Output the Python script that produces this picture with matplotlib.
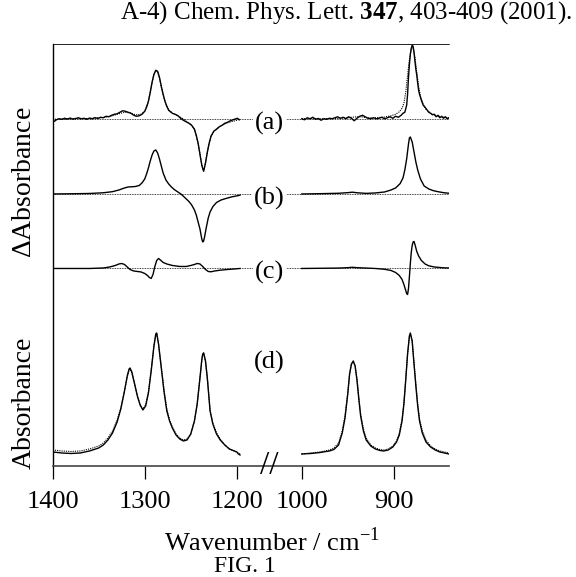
"""IR difference spectra (a)-(c) and absorbance (d), broken wavenumber axis."""

import matplotlib
matplotlib.use("Agg")
import matplotlib.pyplot as plt
import numpy as np

plt.rcParams["font.family"] = ["Liberation Serif", "DejaVu Serif"]
plt.rcParams["mathtext.fontset"] = "custom"
plt.rcParams["mathtext.rm"] = "Liberation Serif"
plt.rcParams["mathtext.bf"] = "Liberation Serif:bold"

# ---- data (arbitrary units) ----
# (a) observed difference spectrum, solid (noisy) and dotted (fit)
a_left_w = [1400, 1398, 1396, 1393, 1390, 1387, 1384, 1381, 1378, 1375, 1372, 1369, 1366, 1363,
            1360, 1357, 1354, 1351, 1348, 1345, 1342, 1339, 1336, 1333, 1330, 1327, 1324, 1321,
            1318, 1315, 1312, 1309, 1306, 1303, 1300, 1298, 1296, 1294, 1292, 1290, 1288, 1286,
            1284, 1282, 1280, 1278, 1276, 1274, 1272, 1270, 1267, 1264, 1261, 1258, 1255, 1252,
            1249, 1246, 1244, 1242, 1240, 1238, 1236, 1234, 1232, 1230, 1228, 1225, 1222, 1219,
            1216, 1213, 1210, 1207, 1204, 1201, 1198, 1195, 1192]
a_left = [-1.0, -2.0, -0.5, 0.5, 0.0, 1.0, 0.3, 1.2, 0.2, 0.8, 1.5, 0.5, 1.0, 0.0,
          1.2, 0.4, 1.6, 0.8, 2.0, 1.5, 3.0, 2.5, 4.0, 5.0, 5.5, 7.0, 8.5, 8.0,
          7.0, 6.0, 4.0, 3.0, 3.5, 5.0, 8.0, 12, 18, 27, 37, 45, 49, 48,
          42, 33, 25, 18, 13, 9, 7.5, 6.0, 5.0, 3.5, 1.0, -1.0, -2.5, -4.0,
          -6.0, -10, -16, -24, -35, -46, -52, -44, -33, -24, -17, -12, -10, -7.5,
          -6.0, -4.0, -3.0, -1.5, -0.5, 0.5, 1.0, 0.3, -0.5]
a_fit_left_w = [1400, 1380, 1360, 1345, 1335, 1328, 1322, 1316, 1310, 1304, 1300, 1296, 1292, 1290,
                1288, 1286, 1284, 1282, 1280, 1277, 1274, 1270, 1265, 1260, 1255, 1250, 1246, 1242,
                1239, 1237, 1236, 1234, 1231, 1228, 1224, 1218, 1210, 1200, 1192]
a_fit_left = [0, 0.3, 0.8, 1.8, 3.5, 5.5, 7.0, 6.5, 4.5, 5.0, 8.0, 18, 37, 45,
              48, 47, 41, 32, 24, 15, 9.5, 6.0, 4.0, 1.5, -2.0, -5.0, -10, -24,
              -40, -50, -51, -43, -28, -17, -11, -7, -3.5, -1, 0]
a_right_w = [1000, 997, 994, 991, 988, 985, 982, 979, 976, 973, 970, 967, 964, 961, 958, 955,
             952, 949, 946, 943, 940, 937, 934, 931, 928, 925, 922, 919, 916, 913, 910, 907,
             904, 901, 898, 895, 892, 890, 888, 886, 885, 884, 883, 882, 881, 880, 879, 878,
             877, 876, 875, 874, 873, 872, 870, 868, 866, 864, 862, 860, 858, 856, 854, 852,
             850, 848, 846, 844, 842, 840]
a_right = [0.5, -0.5, 1.5, 0.5, 2.0, 0.0, 0.8, -1.0, 0.5, 0.0, 1.0, 0.5, 1.5, 2.5, 1.0, 2.0,
           0.5, 2.5, 1.0, -1.5, 1.0, 3.0, 4.0, 2.5, 1.0, 0.5, 1.5, 0.5, 1.0, 2.0, 0.5, 1.5,
           2.5, 1.0, 3.0, 2.0, 4.0, 6.0, 7.0, 14, 25, 42, 55, 65, 71, 74, 73, 67,
           58, 50, 44, 36, 29, 25, 19, 14, 12, 9.5, 7.0, 6.0, 4.5, 5.0, 2.5, 4.0,
           1.5, 3.0, 1.0, 2.5, 0.5, 1.5]
a_fit_right_w = [1000, 980, 960, 950, 945, 940, 935, 930, 920, 910, 903, 898, 894, 891, 889, 887,
                 885, 883, 881, 880, 879, 877, 875, 873, 871, 868, 865, 860, 855, 850, 845, 840]
a_fit_right = [0.5, 0.6, 0.9, 1.5, 2.0, 2.5, 2.5, 1.5, 1.5, 2.2, 3.5, 5.0, 7.5, 11, 16, 27,
               44, 60, 70, 72, 71, 62, 47, 33, 23, 15, 10, 6, 4, 2.8, 2.0, 1.5]

# (b) calculated difference spectrum
b_left_w = [1400, 1380, 1360, 1345, 1335, 1328, 1322, 1318, 1314, 1310, 1306, 1303, 1300, 1298,
            1296, 1294, 1292, 1290, 1288, 1286, 1284, 1282, 1280, 1277, 1274, 1271, 1268, 1264,
            1260, 1256, 1252, 1249, 1246, 1244, 1242, 1240, 1238, 1237, 1236, 1235, 1233, 1231,
            1229, 1226, 1222, 1217, 1211, 1205, 1198, 1190]
b_left = [0, 0.2, 0.5, 1.2, 2.3, 4.0, 6.0, 7.0, 7.2, 7.5, 8.5, 11, 15, 20,
          26, 33, 39, 43, 44, 41, 35, 28, 21, 14, 10, 7, 4.5, 2,
          -0.5, -4, -7.5, -11, -16, -21, -28, -35, -45, -48, -47, -43, -33, -24,
          -18, -12.7, -8.5, -6, -4.3, -2.8, -1.8, -1.2]
b_right_w = [1000, 980, 960, 950, 945, 940, 930, 920, 910, 903, 898, 893, 890, 888, 886, 884,
             883, 882, 880, 878, 876, 874, 871, 867, 862, 857, 852, 846, 840]
b_right = [0, 0.3, 0.7, 1.3, 1.8, 1.2, 0.6, 1.0, 2.0, 4.0, 6.0, 10.5, 16, 24, 35, 50,
           56, 57, 52, 42, 32, 24, 15, 8, 5, 3.3, 2.3, 1.3, 0.7]

# (c) difference between (a) and (b)
c_left_w = [1400, 1360, 1345, 1338, 1332, 1328, 1325, 1322, 1319, 1316, 1312, 1308, 1304, 1300,
            1297, 1295, 1293, 1291, 1289, 1287, 1285, 1283, 1280, 1276, 1270, 1262, 1255, 1250,
            1246, 1243, 1240, 1237, 1234, 1231, 1228, 1224, 1218, 1210, 1200, 1190]
c_left = [0, 0, 0.5, 1.5, 3.0, 4.5, 5.0, 4.0, 1.5, -1.0, -2.5, -3.0, -3.5, -5.0,
          -7, -9, -10, -6, 2, 8, 10, 8.5, 6, 4.5, 3.0, 2.0, 2.0, 3.0,
          4.0, 5.0, 4.5, 2.0, -1.0, -3.0, -3.3, -2.5, -1.7, -1.0, -0.3, 0]
c_right_w = [1000, 980, 960, 950, 945, 940, 930, 920, 910, 903, 898, 894, 891, 889, 887, 886,
             885, 884, 883, 882, 881, 880, 879, 878, 877, 875, 873, 870, 866, 862, 856, 850,
             845, 840]
c_right = [0, 0.2, 0.4, 0.8, 1.2, 0.8, 0.4, 0, -0.8, -2.0, -4.0, -7, -11, -16, -22, -25,
           -26, -20, -8, 5, 16, 23, 26.5, 27, 24, 17, 12.5, 8, 4.5, 2.7, 1.5, 1.0,
           0.6, 0.5]

# (d) absorbance, solid (observed) and dotted (simulated)
d_left_w = [1400, 1390, 1380, 1370, 1360, 1350, 1345, 1340, 1335, 1330, 1326, 1322, 1319, 1317,
            1316, 1314, 1311, 1308, 1305, 1302, 1299, 1296, 1293, 1290, 1288, 1287, 1285, 1282,
            1279, 1276, 1273, 1270, 1266, 1262, 1258, 1254, 1250, 1246, 1243, 1240, 1238, 1237,
            1236, 1234, 1232, 1229, 1226, 1222, 1218, 1213, 1208, 1200, 1195, 1190]
d_left = [14, 13, 12.5, 13, 15, 18, 21, 26, 33, 44, 57, 75, 90, 97,
          98, 94, 82, 70, 61, 56, 60, 73, 95, 120, 132, 133, 122, 98,
          74, 55, 45, 38, 31, 27, 25, 26, 32, 45, 62, 88, 106, 112,
          113, 105, 88, 55, 42, 32, 26, 21, 17, 14, 12, 11]
d_fit_left = [16, 15, 14.5, 15, 17, 20, 23, 28, 35, 46, 58, 75, 89, 96,
              97, 93, 82, 70, 61, 57, 61, 74, 96, 120, 131, 132, 122, 99,
              76, 57, 46, 39, 32, 28, 26, 27, 32, 45, 62, 88, 106, 112,
              113, 105, 88, 56, 43, 33, 27, 21, 17, 14, 13, 12]
d_right_w = [1000, 990, 980, 970, 965, 960, 956, 953, 950, 948, 946, 944, 942, 940, 938, 936,
             933, 930, 925, 920, 915, 911, 906, 901, 897, 894, 891, 889, 887, 885, 883, 882,
             880, 878, 876, 874, 872, 869, 865, 860, 855, 850, 845, 840]
d_right = [12, 12.5, 13.5, 15, 16.5, 21, 33, 48, 72, 92, 102, 105, 100, 86, 67, 50,
           35, 26, 20, 17, 15.5, 15, 16, 19, 24, 31, 45, 62, 86, 112, 130, 133,
           125, 102, 80, 60, 45, 33, 24, 19, 16, 14, 13, 12]
d_fit_right = [12, 13, 14, 16, 18, 23, 35, 50, 73, 92, 102, 104, 100, 87, 69, 52,
               37, 28, 21, 18, 16.5, 16, 17, 20, 25, 33, 47, 63, 87, 112, 130, 132,
               125, 103, 82, 62, 47, 35, 26, 20, 17, 15, 14, 13]

labels = ["(a)", "(b)", "(c)", "(d)"]
xticks = [1400, 1300, 1200, 1000, 900]

# ---- broken-axis scale: 1400-1200 and 1000-840 with a compressed gap ----
W_MAX, BREAK_HI, BREAK_LO = 1400.0, 1200.0, 1000.0
GAP = 70.6  # width of the gap in "wavenumber-like" units


def forward(w):
    w = np.asarray(w, dtype=float)
    p = np.where(w >= BREAK_HI, W_MAX - w,
                 np.where(w > BREAK_LO,
                          (W_MAX - BREAK_HI) + (BREAK_HI - w) * GAP / (BREAK_HI - BREAK_LO),
                          (W_MAX - BREAK_HI) + GAP + (BREAK_LO - w)))
    return -p


def inverse(f):
    p = -np.asarray(f, dtype=float)
    left = W_MAX - BREAK_HI
    return np.where(p <= left, W_MAX - p,
                    np.where(p < left + GAP,
                             BREAK_HI - (p - left) * (BREAK_HI - BREAK_LO) / GAP,
                             BREAK_LO - (p - left - GAP)))


def main():
    fig = plt.figure(figsize=(5.76, 5.77), dpi=100)
    ax = fig.add_axes([0.0915, 0.1924, 0.688, 0.7314])
    ax.set_xscale("function", functions=(forward, inverse))
    ax.set_xlim(1400, 840)
    ax.set_ylim(0, 422)

    offsets = [346.7, 272, 197.5, 0]
    dot = (0, (1, 1))
    solid_kw = dict(color="black", lw=1.0)
    fit_kw = dict(color="black", lw=0.8, ls=dot)

    # baselines of the difference spectra
    for off in offsets[:3]:
        ax.axhline(off, color="black", lw=0.6, ls=dot, zorder=1)

    traces = [
        ((a_left_w, a_left), (a_right_w, a_right)),
        ((b_left_w, b_left), (b_right_w, b_right)),
        ((c_left_w, c_left), (c_right_w, c_right)),
        ((d_left_w, d_left), (d_right_w, d_right)),
    ]
    for off, segments in zip(offsets, traces):
        for w, y in segments:
            ax.plot(w, np.asarray(y) + off, zorder=3, **solid_kw)

    fits = [
        (offsets[0], ((a_fit_left_w, a_fit_left), (a_fit_right_w, a_fit_right))),
        (offsets[3], ((d_left_w, d_fit_left), (d_right_w, d_fit_right))),
    ]
    for off, segments in fits:
        for w, y in segments:
            ax.plot(w, np.asarray(y) + off, zorder=2, **fit_kw)

    # labels sit slightly below their baselines, as in the original
    label_y = [off - 4 for off in offsets[:3]] + [104]
    for lab, y in zip(labels, label_y):
        ax.text(1100, y, lab, ha="center", va="center", fontsize=19,
                bbox=dict(facecolor="white", edgecolor="none", pad=1.5), zorder=4)

    # axes styling
    ax.spines["right"].set_visible(False)
    ax.spines["top"].set_linestyle(dot)
    ax.spines["top"].set_linewidth(0.6)
    ax.spines["left"].set_linewidth(1.0)
    ax.spines["bottom"].set_linewidth(1.2)
    ax.spines["bottom"].set_color("#444444")
    ax.set_yticks([])
    ax.set_xticks(xticks)
    ax.set_xticklabels([str(t) for t in xticks])
    ax.minorticks_off()
    ax.tick_params(axis="x", direction="out", length=9, width=0.9, pad=9, labelsize=19)

    # axis break mark
    ax.text(1100, 0, "//", transform=ax.get_xaxis_transform(), ha="center", va="center",
            fontsize=24, zorder=5)

    fig.text(0.042, 0.6846, r"$\Delta$Absorbance", rotation=90, ha="center", va="center",
             fontsize=20)
    fig.text(0.042, 0.3016, "Absorbance", rotation=90, ha="center", va="center", fontsize=20)
    fig.text(0.4717, 0.061, r"Wavenumber / cm$^{-1}$", ha="center", va="center", fontsize=19)
    fig.text(0.425, 0.018, "FIG. 1", ha="center", va="center", fontsize=17)
    fig.text(0.993, 0.979, r"A-4) Chem. Phys. Lett. $\mathbf{347}$, 403-409 (2001).",
             ha="right", va="center", fontsize=18)

    fig.savefig("out.png", dpi=100)


if __name__ == "__main__":
    main()
